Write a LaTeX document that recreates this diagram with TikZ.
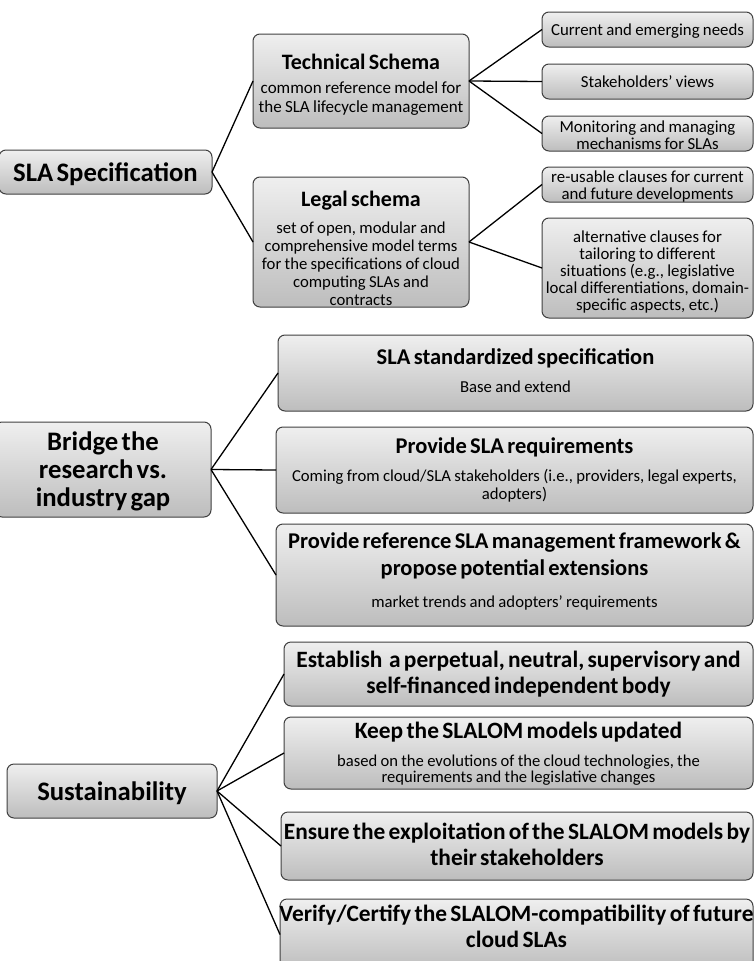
\documentclass[tikz,border=0pt]{standalone}
\usepackage{fontspec}
\setmainfont{Carlito}
\usetikzlibrary{calc}
\definecolor{boxtop}{HTML}{EFEFEF}
\definecolor{boxbot}{HTML}{BDBDBD}
\definecolor{boxline}{HTML}{404040}
\tikzset{
  box/.style={draw=boxline, line width=1pt, rounded corners=7pt,
    top color=boxtop, bottom color=boxbot, inner sep=0pt, outer sep=0pt},
  txt/.style={align=center, inner sep=0pt, text width=#1},
  txt/.default=480,
  link/.style={draw=black, line width=1.3pt},
}
\newcommand{\bigttl}[1]{{\fontsize{26.7}{28}\selectfont\bfseries #1\par}}
\newcommand{\midttl}[1]{{\fontsize{22}{26}\selectfont\bfseries #1\par}}
\newcommand{\secttl}[1]{{\fontsize{22.5}{27}\selectfont\bfseries #1\par}}
\newcommand{\thrttl}[1]{{\fontsize{23.4}{26}\selectfont\bfseries #1\par}}
\newcommand{\topdsc}[1]{{\fontsize{17}{19}\selectfont #1\par}}
\newcommand{\legdsc}[1]{{\fontsize{16.7}{17.8}\selectfont #1\par}}
\newcommand{\smalldsc}[1]{{\fontsize{16.8}{17}\selectfont #1\par}}
\newcommand{\secdsc}[1]{{\fontsize{16.7}{18}\selectfont #1\par}}
\begin{document}
\begin{tikzpicture}[x=1pt,y=-1pt]
\useasboundingbox (0,0) rectangle (754,961);
\fill[white] (0,0) rectangle (754,961);
\clip (0,0) rectangle (754,961);

% ---------- Section 1 ----------
\node[box, minimum width=213, minimum height=44] (spec) at (105.5,172) {};
\node[txt] (spect) at ($(spec.center)+(0,2)$) {\bigttl{SLA Specification}};

\node[box, minimum width=216, minimum height=94] (tech) at (361,81) {};
\node[txt=214] (techt) at ($(tech.center)+(0,4)$)
  {\midttl{Technical Schema}\vspace{5pt}\topdsc{common reference model for\\the SLA lifecycle management}};

\node[box, minimum width=216, minimum height=130] (legal) at (361,242) {};
\node[txt=214] (legalt) at ($(legal.center)+(0,6)$)
  {\midttl{Legal schema}\vspace{10pt}\legdsc{set of open, modular and\\comprehensive model terms\\for the specifications of cloud\\computing SLAs and\\contracts}};

\node[box, minimum width=211, minimum height=35] (cur) at (647.5,29.5) {};
\node[txt=209] (curt) at ($(cur.center)+(0,2)$) {\smalldsc{Current and emerging needs}};
\node[box, minimum width=211, minimum height=35] (stk) at (647.5,81.5) {};
\node[txt=209] (stkt) at ($(stk.center)+(0,0.5)$) {\smalldsc{Stakeholders’ views}};
\node[box, minimum width=211, minimum height=35] (mon) at (647.5,133.5) {};
\node[txt=209] (mont) at ($(mon.center)+(0,1.5)$) {\smalldsc{Monitoring and managing\\mechanisms for SLAs}};
\node[box, minimum width=211, minimum height=35] (reu) at (647.5,184.5) {};
\node[txt=209] (reut) at ($(reu.center)+(0,2)$) {\smalldsc{re-usable clauses for current\\and future developments}};
\node[box, minimum width=211, minimum height=100] (alt) at (647.5,268) {};
\node[txt=209] (altt) at ($(alt.center)+(0,4)$) {\smalldsc{alternative clauses for\\tailoring to different\\situations (e.g., legislative\\local differentiations, domain-\\specific aspects, etc.)}};

\draw[link] (spec.east) -- (tech.west);
\draw[link] (spec.east) -- (legal.west);
\draw[link] (tech.east) -- (cur.west);
\draw[link] (tech.east) -- (stk.west);
\draw[link] (tech.east) -- (mon.west);
\draw[link] (legal.east) -- (reu.west);
\draw[link] (legal.east) -- (alt.west);

% ---------- Section 2 ----------
\node[box, minimum width=216, minimum height=95] (bridge) at (103,469.5) {};
\node[txt=214] (bridget) at ($(bridge.center)+(0,2)$)
  {{\fontsize{26.7}{28}\selectfont\bfseries Bridge the\\research vs.\\industry gap\par}};

\node[box, minimum width=475, minimum height=76] (std) at (515.5,373) {};
\node[txt] (stdt) at ($(std.center)+(0,-2.5)$)
  {\secttl{SLA standardized specification}\vspace{10pt}\secdsc{Base and extend}};

\node[box, minimum width=477, minimum height=86] (req) at (514.5,470) {};
\node[txt] (reqt) at ($(req.center)+(0,0)$)
  {\secttl{Provide SLA requirements}\vspace{10pt}\secdsc{Coming from cloud/SLA stakeholders (i.e., providers, legal experts,\\adopters)}};

\node[box, minimum width=477, minimum height=102] (ref) at (514.5,575) {};
\node[txt] (reft) at ($(ref.center)+(0,-4)$)
  {\secttl{Provide reference SLA management framework \&\\propose potential extensions}\vspace{14pt}\secdsc{market trends and adopters’ requirements}};

\draw[link] (bridge.east) -- (std.west);
\draw[link] (bridge.east) -- (req.west);
\draw[link] (bridge.east) -- (ref.west);

% ---------- Section 3 ----------
\node[box, minimum width=210, minimum height=54] (sus) at (112,791) {};
\node[txt] (sust) at ($(sus.center)+(0,2)$) {\bigttl{Sustainability}};

\node[box, minimum width=469, minimum height=64] (est) at (518.5,674) {};
\node[txt] (estt) at ($(est.center)+(0,0)$)
  {\thrttl{Establish\ \ a perpetual, neutral, supervisory and\\self-financed independent body}};

\node[box, minimum width=469, minimum height=72] (keep) at (518.5,753) {};
\node[txt] (keept) at ($(keep.center)+(0,0.5)$)
  {\thrttl{Keep the SLALOM models updated}\vspace{12pt}{\fontsize{16.6}{16}\selectfont based on the evolutions of the cloud technologies, the\\requirements and the legislative changes\par}};

\node[box, minimum width=472, minimum height=68] (ens) at (517,846) {};
\node[txt] (enst) at ($(ens.center)+(0,-2)$)
  {\thrttl{Ensure the exploitation of the SLALOM models by\\their stakeholders}};

\node[box, minimum width=473, minimum height=71] (ver) at (516.5,934.5) {};
\node[txt] (vert) at ($(ver.center)+(0,-8)$)
  {\thrttl{Verify/Certify the SLALOM-compatibility of future\\cloud SLAs}};

\draw[link] (sus.east) -- (est.west);
\draw[link] (sus.east) -- (keep.west);
\draw[link] (sus.east) -- (ens.west);
\draw[link] (sus.east) -- (ver.west);
\end{tikzpicture}
\end{document}
